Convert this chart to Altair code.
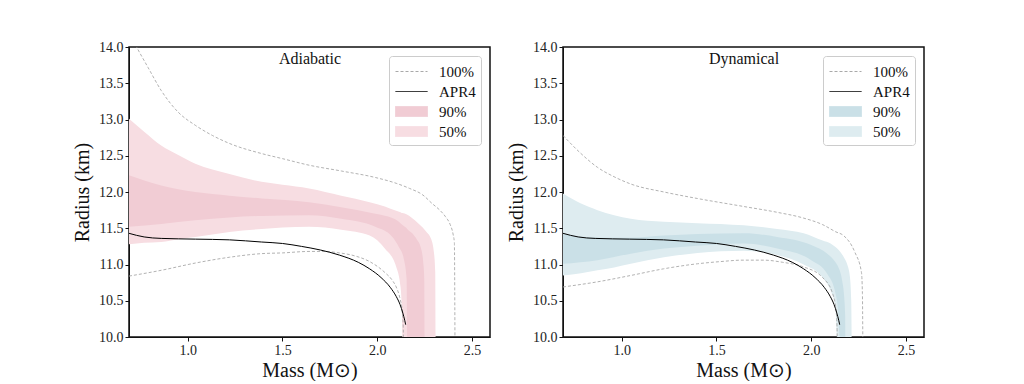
import altair as alt
import pandas as pd

# ---------------- data ----------------
X_TICKS = [1.0, 1.5, 2.0, 2.5]
Y_TICKS = [10.0, 10.5, 11.0, 11.5, 12.0, 12.5, 13.0, 13.5, 14.0]
SERIES = ["100%", "APR4", "90%", "50%"]

APR4_M = [0.69, 0.77, 0.86, 1.04, 1.22, 1.39, 1.50, 1.60, 1.70, 1.80, 1.90, 1.96, 2.02, 2.07, 2.10, 2.12, 2.135, 2.145, 2.15]
APR4_R = [11.43, 11.38, 11.36, 11.35, 11.34, 11.31, 11.29, 11.25, 11.20, 11.13, 11.03, 10.94, 10.82, 10.68, 10.56, 10.45, 10.33, 10.23, 10.17]

# Adiabatic
AD_UP100_M = [0.70, 0.73, 0.79, 0.86, 0.95, 1.04, 1.13, 1.22, 1.39, 1.50, 1.64, 1.81, 1.99, 2.10, 2.17, 2.24, 2.29, 2.33, 2.36, 2.385, 2.40, 2.407, 2.41]
AD_UP100_R = [14.15, 14.0, 13.72, 13.40, 13.10, 12.92, 12.78, 12.67, 12.53, 12.46, 12.37, 12.29, 12.20, 12.12, 12.05, 11.96, 11.84, 11.75, 11.66, 11.55, 11.42, 11.30, 10.0]
AD_LO100_M = [0.69, 0.86, 1.04, 1.22, 1.39, 1.50, 1.64, 1.72, 1.80, 1.88, 1.96, 2.04, 2.08, 2.10, 2.12, 2.132, 2.137, 2.138]
AD_LO100_R = [10.84, 10.92, 11.02, 11.10, 11.15, 11.16, 11.18, 11.18, 11.16, 11.12, 11.04, 10.89, 10.78, 10.69, 10.53, 10.35, 10.15, 10.0]

AD_50_M = [0.69, 0.77, 0.86, 0.95, 1.04, 1.22, 1.39, 1.50, 1.64, 1.81, 1.96, 2.04, 2.10, 2.123, 2.130, 2.133, 2.18, 2.22, 2.26, 2.285, 2.300, 2.306, 2.308]
AD_50_HI = [13.01, 12.83, 12.64, 12.51, 12.39, 12.25, 12.14, 12.10, 12.05, 11.95, 11.86, 11.80, 11.74, 11.72, 11.71, 11.71, 11.65, 11.56, 11.45, 11.35, 11.15, 10.9, 10.0]
AD_50_LO = [11.28, 11.30, 11.31, 11.35, 11.38, 11.45, 11.49, 11.51, 11.52, 11.48, 11.40, 11.22, 10.97, 10.69, 10.35, 10.0, 10.0, 10.0, 10.0, 10.0, 10.0, 10.0, 10.0]

AD_90_M = [0.69, 0.86, 1.04, 1.22, 1.39, 1.64, 1.81, 1.99, 2.08, 2.114, 2.14, 2.155, 2.158, 2.185, 2.21, 2.229, 2.242, 2.248, 2.25]
AD_90_HI = [12.23, 12.09, 12.00, 11.95, 11.91, 11.86, 11.79, 11.70, 11.64, 11.59, 11.53, 11.50, 11.49, 11.43, 11.34, 11.24, 11.05, 10.8, 10.0]
AD_90_LO = [11.52, 11.56, 11.61, 11.65, 11.67, 11.68, 11.63, 11.52, 11.38, 11.24, 11.08, 10.8, 10.0, 10.0, 10.0, 10.0, 10.0, 10.0, 10.0]

# Dynamical
DY_UP100_M = [0.69, 0.785, 0.872, 0.96, 1.048, 1.223, 1.40, 1.644, 1.82, 1.96, 2.06, 2.13, 2.17, 2.23, 2.265, 2.27, 2.272]
DY_UP100_R = [12.78, 12.53, 12.34, 12.21, 12.11, 12.00, 11.91, 11.80, 11.72, 11.64, 11.55, 11.45, 11.40, 11.17, 10.89, 10.6, 10.0]
DY_LO100_M = [0.69, 0.87, 1.05, 1.22, 1.40, 1.52, 1.64, 1.75, 1.85, 1.956, 2.06, 2.114, 2.131, 2.136, 2.137]
DY_LO100_R = [10.69, 10.76, 10.85, 10.94, 11.01, 11.04, 11.06, 11.06, 11.03, 10.97, 10.82, 10.59, 10.36, 10.15, 10.0]

DY_50_M = [0.69, 0.785, 0.872, 0.96, 1.048, 1.223, 1.40, 1.644, 1.82, 1.96, 2.06, 2.102, 2.128, 2.137, 2.172, 2.19, 2.204, 2.211, 2.213]
DY_50_HI = [11.98, 11.84, 11.75, 11.68, 11.63, 11.59, 11.57, 11.54, 11.49, 11.43, 11.33, 11.29, 11.24, 11.22, 11.10, 11.0, 10.83, 10.5, 10.0]
DY_50_LO = [10.85, 10.88, 10.92, 10.96, 11.01, 11.10, 11.16, 11.19, 11.13, 11.00, 10.82, 10.64, 10.41, 10.0, 10.0, 10.0, 10.0, 10.0, 10.0]

DY_90_M = [0.69, 0.872, 1.048, 1.223, 1.40, 1.644, 1.82, 2.0, 2.085, 2.128, 2.142, 2.15, 2.163, 2.174, 2.179, 2.18]
DY_90_HI = [11.42, 11.37, 11.37, 11.40, 11.42, 11.43, 11.38, 11.27, 11.15, 11.03, 10.97, 10.92, 10.78, 10.55, 10.3, 10.0]
DY_90_LO = [11.01, 11.06, 11.15, 11.22, 11.26, 11.29, 11.22, 11.06, 10.87, 10.60, 10.35, 10.0, 10.0, 10.0, 10.0, 10.0]

PINK = ["#a9a9a9", "#000000", "#f1ccd4", "#f7dde2"]
BLUE = ["#a9a9a9", "#000000", "#cae0e7", "#deecf0"]

FONT = "Liberation Serif"
X_DOMAIN = [0.69, 2.595]
Y_DOMAIN = [10.0, 14.0]


def panel(label, colors, up_m, up_r, lo_m, lo_r, b50, b90):
    xs = alt.Scale(domain=X_DOMAIN, nice=False, zero=False)
    ys = alt.Scale(domain=Y_DOMAIN, nice=False, zero=False)
    xax = alt.Axis(values=X_TICKS, format=".1f", title="Mass (M⊙)")
    yax = alt.Axis(values=Y_TICKS, format=".1f", title="Radius (km)")
    is_line = "datum.value == '100%' || datum.value == 'APR4'"
    fill_expr = (f"datum.value == '90%' ? '{colors[2]}' : datum.value == '50%' ? '{colors[3]}' : 'transparent'")
    stroke_expr = (f"datum.value == '100%' ? '{colors[0]}' : datum.value == 'APR4' ? '{colors[1]}' : "
                   f"datum.value == '90%' ? '{colors[2]}' : '{colors[3]}'")
    legend = alt.Legend(
        title=None, orient="top-right", offset=9, padding=5,
        strokeColor="#cccccc", cornerRadius=3, fillColor="white",
        labelFont=FONT, labelFontSize=15, labelColor="#111", labelOffset=17,
        symbolSize=400, symbolStrokeWidth=1, symbolOffset=7,
        symbolType={"expr": f"{is_line} ? 'M-1.6,0H1.6' : 'M-1.6,-0.5H1.6V0.5H-1.6Z'"},
        symbolDash={"expr": "datum.value == '100%' ? [3, 2] : [1, 0]"},
        symbolFillColor={"expr": fill_expr},
        symbolStrokeColor={"expr": stroke_expr},
        rowPadding=1,
    )
    color = alt.Color("series:N", scale=alt.Scale(domain=SERIES, range=colors), legend=legend)

    def band(m, hi, lo, name):
        df = pd.DataFrame({"m": m, "hi": hi, "lo": lo, "series": name})
        return alt.Chart(df).mark_area(interpolate="monotone", clip=True).encode(
            x=alt.X("m:Q", scale=xs, axis=xax), y=alt.Y("hi:Q", scale=ys, axis=yax), y2="lo:Q", color=color)

    def curve(m, r, name, dash):
        df = pd.DataFrame({"m": m, "r": r, "series": name, "i": list(range(len(m)))})
        kw = {"strokeDash": [3, 2], "strokeWidth": 0.9} if dash else {"strokeWidth": 1.0}
        return alt.Chart(df).mark_line(interpolate="monotone", clip=True, **kw).encode(
            x=alt.X("m:Q", scale=xs, axis=xax), y=alt.Y("r:Q", scale=ys, axis=yax),
            order="i:Q", color=color)

    txt = alt.Chart(pd.DataFrame({"t": [label]})).mark_text(
        font=FONT, fontSize=16, color="#111", baseline="middle", align="center"
    ).encode(text="t:N", x=alt.value(181), y=alt.value(12))

    layers = [
        band(b50[0], b50[1], b50[2], "50%"),
        band(b90[0], b90[1], b90[2], "90%"),
        curve(up_m, up_r, "100%", True),
        curve(lo_m, lo_r, "100%", True),
        curve(APR4_M, APR4_R, "APR4", False),
        txt,
    ]
    return alt.layer(*layers).properties(width=361, height=290)


left = panel("Adiabatic", PINK, AD_UP100_M, AD_UP100_R, AD_LO100_M, AD_LO100_R,
             (AD_50_M, AD_50_HI, AD_50_LO), (AD_90_M, AD_90_HI, AD_90_LO))
right = panel("Dynamical", BLUE, DY_UP100_M, DY_UP100_R, DY_LO100_M, DY_LO100_R,
              (DY_50_M, DY_50_HI, DY_50_LO), (DY_90_M, DY_90_HI, DY_90_LO))

chart = alt.hconcat(left, right, spacing=14).resolve_scale(color="independent").resolve_legend(
    color="independent").properties(
    padding={"left": 63, "top": 31, "right": 5, "bottom": 0}
).configure_view(stroke="#111", strokeWidth=1.5).configure_axis(
    grid=False, labelFont=FONT, labelFontSize=14, labelColor="#222",
    titleFont=FONT, titleFontSize=20, titleFontWeight="normal", titleColor="#111",
    domainColor="#111", tickColor="#111", tickSize=4, labelPadding=2,
).configure_axisY(titlePadding=6).configure_axisX(titlePadding=3)

chart.save("out.html", embed_options={"renderer": "svg", "actions": False})
